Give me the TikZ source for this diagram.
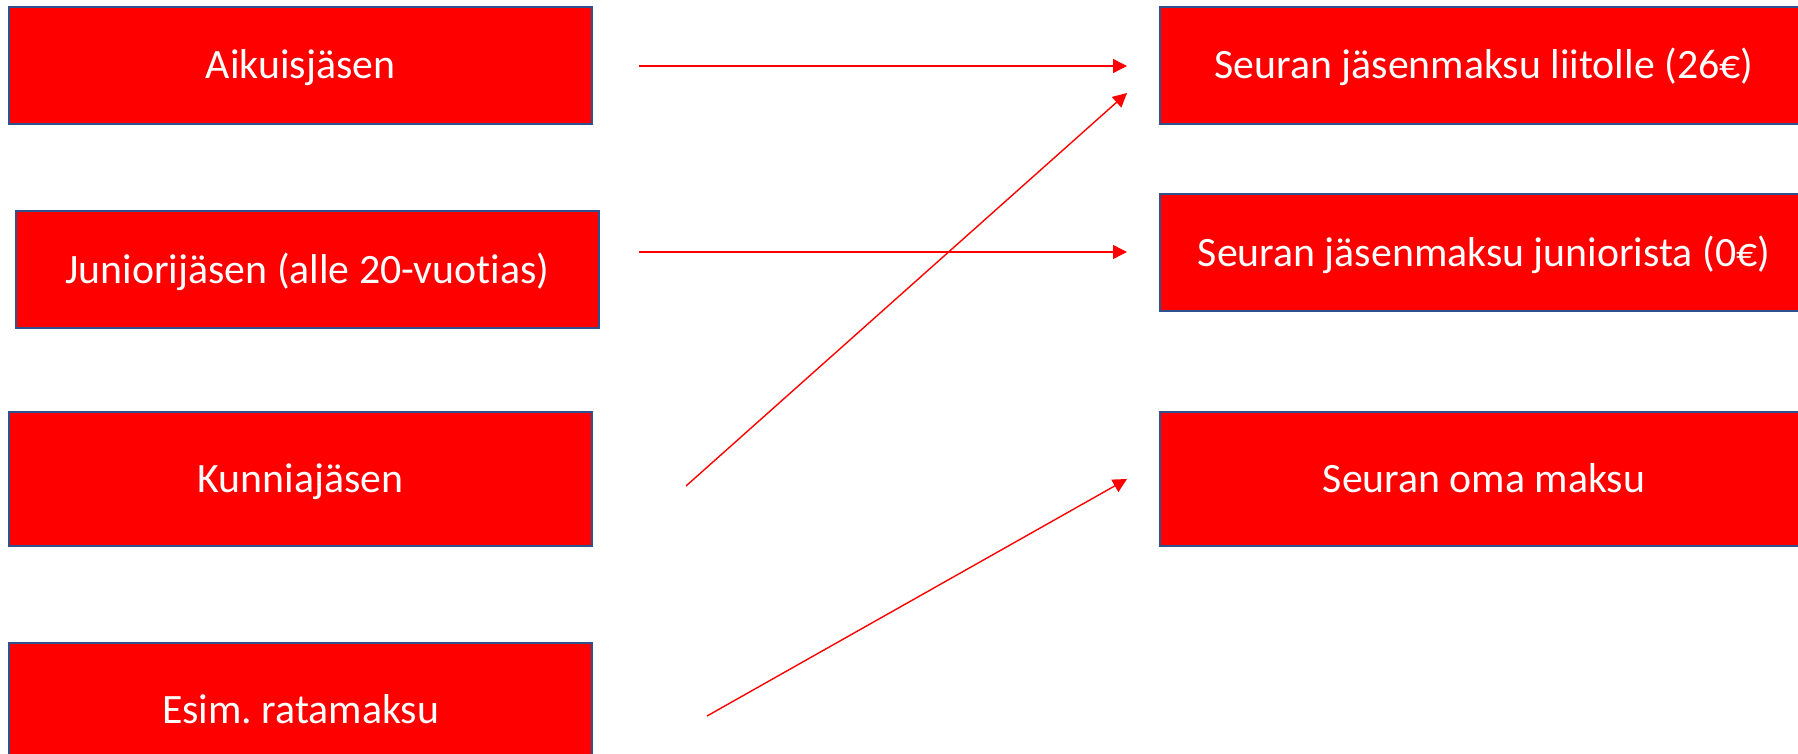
\documentclass[tikz,border=0pt]{standalone}
\usepackage{fontspec}
\setmainfont[Ligatures=NoCommon,Contextuals=NoAlternate,RawFeature=-dlig]{Carlito}
\usetikzlibrary{arrows.meta}
\definecolor{boxred}{HTML}{FF0000}
\definecolor{boxedge}{HTML}{2F528F}
\definecolor{arrred}{HTML}{FF0000}
\frenchspacing
\begin{document}
\begin{tikzpicture}[x=1pt,y=-1pt,
  box/.style={draw=boxedge,line width=1.5pt,fill=boxred,text=white,inner sep=0pt,outer sep=0pt,
    text height=37pt,text depth=10pt,font=\fontsize{41.8}{48}\selectfont},
  conn/.style={draw=arrred,line width=1.4pt,-{Triangle[length=14pt,width=14pt]}}]
\useasboundingbox (0,0) rectangle (1798,754);
\clip (0,0) rectangle (1798,754);
% left boxes
\node[box,minimum width=583pt,minimum height=117pt] (A) at (300.5,65.5) {Aikuisjäsen};
\node[box,minimum width=583pt,minimum height=117pt] (J) at (307.5,269.5) {Juniorijäsen (alle 20-vuotias)};
\node[box,minimum width=583pt,minimum height=134pt] (K) at (300.5,479) {Kunniajäsen};
\node[box,minimum width=583pt,minimum height=134pt] (E) at (300.5,710) {Esim. ratamaksu};
% right boxes
\node[box,minimum width=648pt,minimum height=117pt] (R1) at (1484,65.5) {Seuran jäsenmaksu liitolle (26€)};
\node[box,minimum width=648pt,minimum height=117pt] (R2) at (1484,252.5) {Seuran jäsenmaksu juniorista (0€)};
\node[box,minimum width=648pt,minimum height=134pt] (R3) at (1484,479) {Seuran oma maksu};
% connector end points
\coordinate (a1) at (639,66);
\coordinate (a2) at (1127,66);
\coordinate (j1) at (639,252);
\coordinate (j2) at (1127,252);
\coordinate (k1) at (686,486);
\coordinate (k2) at (1127,93);
\coordinate (e1) at (707,716);
\coordinate (e2) at (1127,479);
\draw[conn] (a1) -- (a2);
\draw[conn] (j1) -- (j2);
\draw[conn] (k1) -- (k2);
\draw[conn] (e1) -- (e2);
\end{tikzpicture}
\end{document}
